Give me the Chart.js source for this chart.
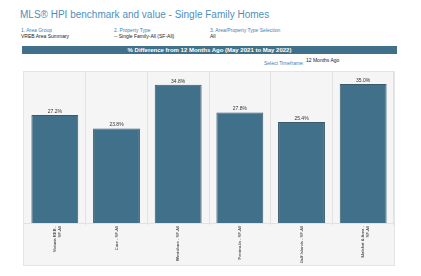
<!DOCTYPE html>
<html>
<head>
<meta charset="utf-8">
<script src="https://cdn.jsdelivr.net/npm/chart.js@4"></script>
<style>
  body { margin: 0; width: 421px; height: 276px; background: #fff; font-family: "Liberation Sans", Arial, sans-serif; position: relative; overflow: hidden; }
  .abs { position: absolute; white-space: nowrap; }
  #title { left: 20px; top: 9px; font-size: 10px; color: #4f8fbd; }
  .flt { font-size: 5px; color: #3d7fb3; }
  .val { font-size: 5px; color: #222; }
  #band { left: 22px; top: 46px; width: 375px; height: 8px; background: #41718a; color: #fff; font-size: 6px; font-weight: bold; text-align: center; line-height: 8px; }
  #panel { left: 23px; top: 71px; width: 372px; height: 195px; background: #f5f5f5; border: 1px solid #e4e4e4; box-sizing: border-box; }
  #chart { display: block; }
</style>
</head>
<body>
<div id="title" class="abs">MLS® HPI benchmark and value - Single Family Homes</div>
<div class="abs flt" style="left:21px;top:27px">1. Area Group</div>
<div class="abs val" style="left:21px;top:33px">VREB Area Summary</div>
<div class="abs flt" style="left:114px;top:27px">2. Property Type</div>
<div class="abs val" style="left:114px;top:33px">-- Single Family-All (SF-All)</div>
<div class="abs flt" style="left:210px;top:27px">3. Area/Property Type Selection</div>
<div class="abs val" style="left:210px;top:33px">All</div>
<div id="band" class="abs">% Difference from 12 Months Ago (May 2021 to May 2022)</div>
<div class="abs flt" style="left:264px;top:60px">Select Timeframe:</div>
<div class="abs val" style="left:306px;top:57px">12 Months Ago</div>
<div id="panel" class="abs"><canvas id="chart" width="370" height="193"></canvas></div>
<script>
// data
const areas = [
  ['Victoria REB -', 'SF-All'],
  'Core - SF-All',
  'Westshore - SF-All',
  'Peninsula - SF-All',
  'Gulf Islands - SF-All',
  ['Malahat & Area -', 'SF-All']
];
const pctChange = [27.2, 23.8, 34.8, 27.8, 25.4, 35.0];

// value labels on top of the bars
const barLabels = {
  id: 'barLabels',
  afterDatasetsDraw(chart) {
    const ctx = chart.ctx;
    ctx.save();
    ctx.font = '5px "Liberation Sans", Arial, sans-serif';
    ctx.fillStyle = '#333';
    ctx.textAlign = 'center';
    ctx.textBaseline = 'bottom';
    chart.getDatasetMeta(0).data.forEach((bar, i) => {
      ctx.fillText(pctChange[i].toFixed(1) + '%', bar.x, bar.y - 1);
    });
    ctx.restore();
  }
};

const ctx = document.getElementById('chart').getContext('2d');
new Chart(ctx, {
  type: 'bar',
  data: {
    labels: areas,
    datasets: [{
      data: pctChange,
      backgroundColor: '#41718a',
      borderColor: '#3a5a6c',
      borderWidth: 1,
      barPercentage: 0.76,
      categoryPercentage: 1
    }]
  },
  options: {
    responsive: false,
    animation: false,
    devicePixelRatio: 1,
    layout: { padding: 0 },
    plugins: { legend: { display: false }, tooltip: { enabled: false } },
    scales: {
      x: {
        grid: { offset: true, color: '#e2e2e2', drawTicks: true, tickLength: 2 },
        border: { color: '#e2e2e2' },
        ticks: {
          minRotation: 90, maxRotation: 90, padding: 1,
          color: '#222',
          font: { size: 4.2, family: '"Liberation Sans", Arial, sans-serif' }
        },
        afterFit(scale) { scale.height = 42; }
      },
      y: {
        display: false,
        min: 0, max: 38
      }
    }
  },
  plugins: [barLabels]
});
</script>
</body>
</html>
